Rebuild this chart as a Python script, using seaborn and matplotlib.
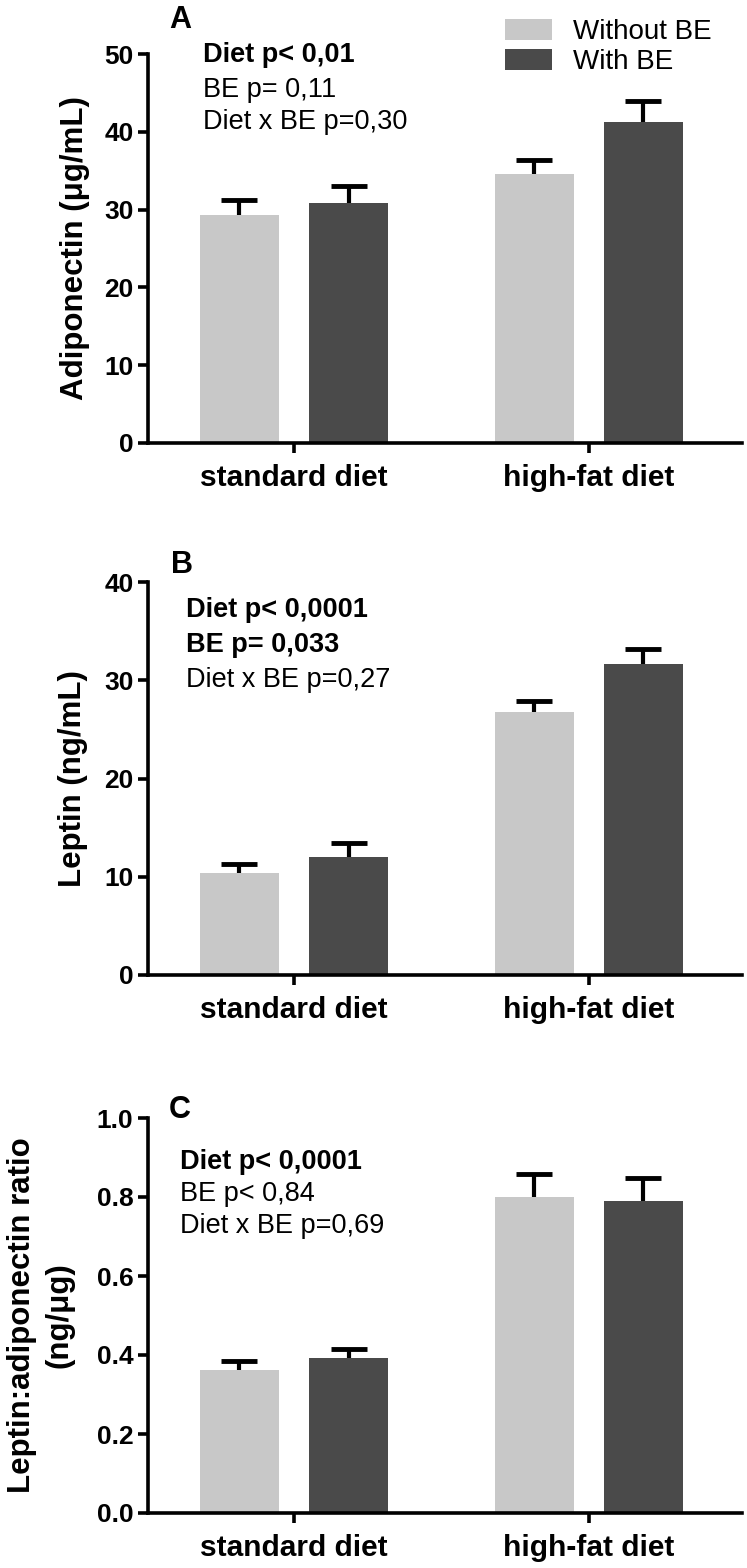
import numpy as np
import pandas as pd
import seaborn as sns
import matplotlib
matplotlib.use('Agg')
import matplotlib.pyplot as plt
from matplotlib.ticker import FormatStrFormatter

# values (mean and upper SEM)
diets = ['standard diet', 'high-fat diet']
groups = ['Without BE', 'With BE']
adipo_without = [29.3, 34.6]
adipo_with = [30.8, 41.3]
adipo_err_without = [1.9, 1.8]
adipo_err_with = [2.2, 2.7]
leptin_without = [10.4, 26.8]
leptin_with = [12.0, 31.7]
leptin_err_without = [0.85, 1.1]
leptin_err_with = [1.4, 1.5]
ratio_without = [0.363, 0.800]
ratio_with = [0.392, 0.789]
ratio_err_without = [0.021, 0.058]
ratio_err_with = [0.023, 0.059]

sns.set_theme(style='ticks', rc={
    'axes.edgecolor': 'black', 'text.color': 'black', 'axes.labelcolor': 'black',
    'xtick.color': 'black', 'ytick.color': 'black',
})
plt.rcParams['font.family'] = ['Liberation Sans', 'DejaVu Sans']

colors = ['#c8c8c8', '#4a4a4a']
W, H = 747, 1568

fig = plt.figure(figsize=(W / 100, H / 100), dpi=100)


def px(x, y):
    return x / W, 1 - y / H


def panel(top, bottom, vals_wo, vals_w, err_wo, err_w, ymax, step, fmt,
          ylabel, lab_x, lab_ls, letter, letter_xy, notes, bold_n, note_x, note_y):
    left, right = 148, 742
    ax = fig.add_axes([left / W, 1 - bottom / H, (right - left) / W, (bottom - top) / H])
    df = pd.DataFrame({
        'diet': diets * 2,
        'group': [groups[0]] * 2 + [groups[1]] * 2,
        'value': vals_wo + vals_w,
    })
    sns.barplot(data=df, x='diet', y='value', hue='group', order=diets, hue_order=groups,
                palette=colors, width=0.742, gap=0.278, errorbar=None, ax=ax,
                saturation=1, linewidth=0, legend=(letter == 'A'))
    # one-sided error bars (upper cap only)
    for cont, errs, vals in zip(ax.containers, [err_wo, err_w], [vals_wo, vals_w]):
        xs = [b.get_x() + b.get_width() / 2 for b in cont]
        eb = ax.errorbar(xs, vals, yerr=[np.zeros(len(errs)), errs], fmt='none',
                         ecolor='black', elinewidth=3, capsize=13, capthick=3.5, zorder=5)
        eb[1][0].set_visible(False)
    ax.set_xlim(-0.495, 1.52)
    ax.set_ylim(0, ymax)
    ax.set_yticks(np.arange(0, ymax + step / 2, step))
    ax.yaxis.set_major_formatter(FormatStrFormatter(fmt))
    sns.despine(ax=ax)
    for s in ['left', 'bottom']:
        ax.spines[s].set_linewidth(2.6)
    ax.tick_params(axis='y', length=7, width=2.6, pad=3.5, labelsize=19)
    ax.tick_params(axis='x', length=7, width=2.6, pad=8, labelsize=21.5)
    for t in ax.get_yticklabels() + ax.get_xticklabels():
        t.set_fontweight('bold')
    ax.set_xlabel('')
    ax.set_ylabel(ylabel, fontsize=22.5, fontweight='bold', linespacing=lab_ls)
    ax.yaxis.set_label_coords((lab_x - left) / (right - left), 0.5)
    fig.text(*px(*letter_xy), letter, fontsize=22, fontweight='bold', ha='center', va='center')
    for i, (n, y) in enumerate(zip(notes, note_y)):
        fig.text(*px(note_x, y), n, fontsize=19.5,
                 fontweight='bold' if i < bold_n else 'normal', va='center', ha='left')
    return ax


axA = panel(54, 443, adipo_without, adipo_with, adipo_err_without, adipo_err_with,
            50, 10, '%d', 'Adiponectin (\u03bcg/mL)', 90, 1.2, 'A', (180, 20),
            ['Diet p< 0,01', 'BE p= 0,11', 'Diet x BE p=0,30'], 1, 203, [55, 90, 122])
axA.legend(loc='upper left', bbox_to_anchor=px(505, 19), bbox_transform=fig.transFigure,
           frameon=False, fontsize=20, handlelength=1.69, handleheight=0.79,
           handletextpad=0.75, labelspacing=0.12, borderpad=0, borderaxespad=0)

axB = panel(582, 975, leptin_without, leptin_with, leptin_err_without, leptin_err_with,
            40, 10, '%d', 'Leptin (ng/mL)', 88, 1.2, 'B', (182, 565),
            ['Diet p< 0,0001', 'BE p= 0,033', 'Diet x BE p=0,27'], 2, 186, [610, 645, 680])

axC = panel(1118, 1513, ratio_without, ratio_with, ratio_err_without, ratio_err_with,
            1.0, 0.2, '%.1f', 'Leptin:adiponectin ratio\n(ng/\u03bcg)', 75, 1.35, 'C', (180, 1110),
            ['Diet p< 0,0001', 'BE p< 0,84', 'Diet x BE p=0,69'], 1, 180, [1162, 1194, 1226])

fig.savefig('out.png', dpi=100)
